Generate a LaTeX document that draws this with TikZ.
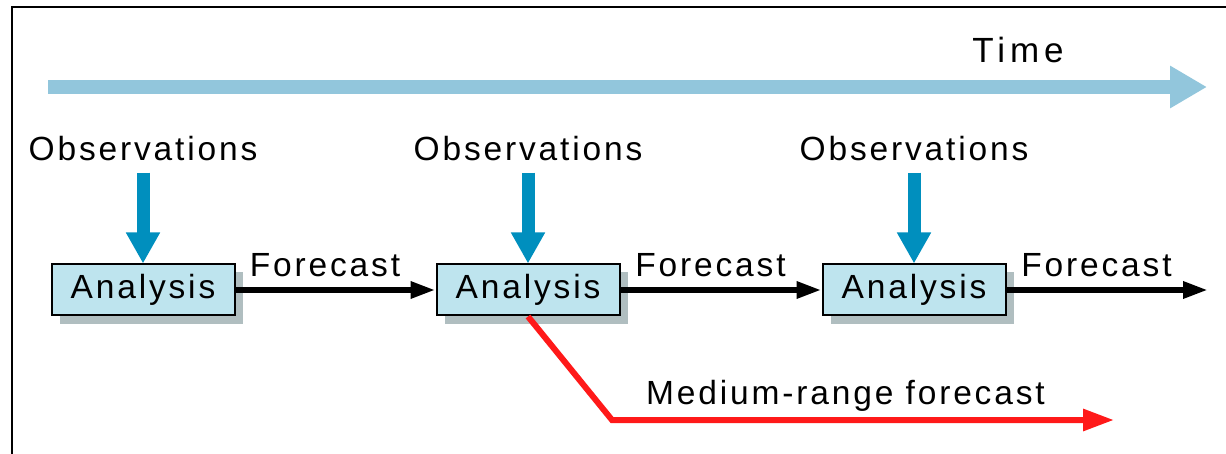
\documentclass[tikz,border=0pt]{standalone}
\usepackage{fontspec}
\setmainfont{Liberation Sans}
\newfontfamily\lblfont[LetterSpace=8.5]{Liberation Sans}
\newfontfamily\timefont[LetterSpace=14]{Liberation Sans}
\usetikzlibrary{arrows.meta}
\usetikzlibrary{shadows}

\definecolor{timeblue}{RGB}{146,198,220}
\definecolor{obsblue}{RGB}{0,143,190}
\definecolor{boxblue}{RGB}{190,228,238}
\definecolor{shadowgray}{RGB}{176,190,192}
\definecolor{medred}{RGB}{255,25,25}

\begin{document}
\begin{tikzpicture}[x=0.5pt, y=-0.5pt,
lbl/.style={font=\lblfont\fontsize{16.75}{20}\selectfont, inner sep=0pt},
timelbl/.style={font=\timefont\fontsize{17.5}{20}\selectfont, inner sep=0pt},
anbox/.style={lbl, draw=black, line width=1pt, fill=boxblue, minimum width=91.5pt, minimum height=25.5pt,
drop shadow={shadow xshift=4pt, shadow yshift=-4pt, fill=shadowgray, opacity=1}},
timearrow/.style={timeblue, line width=7pt, -{Triangle[length=18.5pt, width=20pt]}},
obsarrow/.style={obsblue, line width=6.5pt, shorten <=5.5pt, -{Triangle[length=15.5pt, width=16pt]}},
fcarrow/.style={black, line width=3pt, -{Triangle[length=12.5pt, width=8pt]}},
medarrow/.style={medred, line width=3pt, -{Triangle[length=15.5pt, width=10.5pt]}}]

\useasboundingbox (0, 0) rectangle (1226, 454);
\draw[line width=0.75pt] (12, 454) -- (12, 7) -- (1226, 7);

\coordinate (t0) at (48, 87);
\coordinate (t1) at (1207, 87);
\draw[timearrow] (t0) -- (t1);
\node[timelbl, anchor=base] (time) at (1018, 63) {Time};

\foreach \i\x in {1/143, 2/528, 3/914}{

\node[anbox] (an\i) at (\x, 290) {Analysis};
\node[lbl] (ob\i) at (\x, 149) {Observations};
\draw[obsarrow] (ob\i) -- (an\i);

}

\foreach \i\x in {1/325, 2/710.5, 3/1096.5}{

\node[lbl, anchor=base] (fc\i) at (\x, 277) {Forecast};

}

\coordinate (fend) at (1208, 290);
\draw[fcarrow] (an1) -- (an2);
\draw[fcarrow] (an2) -- (an3);
\draw[fcarrow] (an3.east) -- (fend);

\coordinate (mbend) at (612, 420);
\coordinate (mend) at (1114, 420);
\draw[medarrow] (an2.south) -- (mbend) -- (mend);
\node[lbl, anchor=base] (med) at (845.5, 404) {Medium-range forecast};

\end{tikzpicture}
\end{document}
